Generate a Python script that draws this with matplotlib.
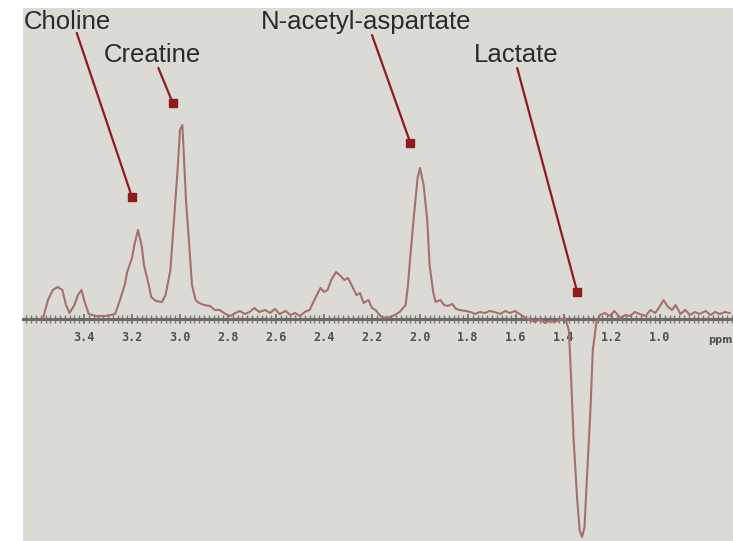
import matplotlib.pyplot as plt
from matplotlib.ticker import MultipleLocator

# chemical shift (ppm) and signal amplitude (arbitrary units)
ppm = [3.57, 3.55, 3.53, 3.51, 3.49, 3.475, 3.46, 3.44, 3.425, 3.41, 3.40, 3.38, 3.35, 3.31,
       3.27, 3.25, 3.23, 3.22, 3.20, 3.19, 3.175, 3.16, 3.15, 3.13, 3.12, 3.10, 3.075, 3.06,
       3.04, 3.025, 3.01, 3.00, 2.99, 2.985, 2.975, 2.96, 2.95, 2.935, 2.92, 2.90, 2.875, 2.855,
       2.835, 2.81, 2.79, 2.77, 2.75, 2.73, 2.71, 2.69, 2.67, 2.645, 2.625, 2.605, 2.585, 2.56,
       2.54, 2.52, 2.50, 2.48, 2.46, 2.44, 2.415, 2.40, 2.385, 2.37, 2.35, 2.335, 2.315, 2.30,
       2.285, 2.265, 2.25, 2.235, 2.215, 2.20, 2.185, 2.165, 2.145, 2.125, 2.105, 2.085, 2.06,
       2.05, 2.04, 2.025, 2.01, 2.00, 1.985, 1.97, 1.96, 1.945, 1.935, 1.915, 1.90, 1.885, 1.865,
       1.85, 1.835, 1.81, 1.79, 1.77, 1.75, 1.73, 1.71, 1.69, 1.665, 1.645, 1.625, 1.605, 1.585,
       1.56, 1.54, 1.52, 1.50, 1.48, 1.46, 1.44, 1.415, 1.395, 1.38, 1.37, 1.36, 1.345, 1.335,
       1.325, 1.315, 1.305, 1.29, 1.28, 1.265, 1.25, 1.23, 1.21, 1.19, 1.165, 1.145, 1.125,
       1.105, 1.085, 1.06, 1.04, 1.02, 1.00, 0.985, 0.97, 0.95, 0.935, 0.915, 0.895, 0.875,
       0.855, 0.835, 0.81, 0.79, 0.77, 0.75, 0.73, 0.71]
signal = [0.1, 1.9, 2.9, 3.2, 2.9, 1.4, 0.6, 1.4, 2.4, 2.9, 1.9, 0.5, 0.3, 0.3,
          0.5, 1.9, 3.4, 4.7, 6.1, 7.4, 8.9, 7.4, 5.4, 3.4, 2.2, 1.8, 1.7, 2.4,
          4.9, 9.9, 14.9, 18.9, 19.4, 16.9, 11.9, 6.9, 3.4, 1.9, 1.6, 1.4, 1.3, 0.9,
          0.9, 0.5, 0.3, 0.6, 0.8, 0.5, 0.7, 1.1, 0.7, 0.9, 0.6, 1.0, 0.5, 0.8,
          0.4, 0.6, 0.3, 0.7, 0.9, 1.9, 3.1, 2.7, 2.9, 3.9, 4.7, 4.4, 3.9, 4.1,
          3.4, 2.4, 2.6, 1.6, 1.9, 1.1, 0.9, 0.3, 0.1, 0.2, 0.4, 0.7, 1.4,
          3.4, 6.4, 10.4, 14.1, 15.1, 13.4, 9.9, 5.4, 2.7, 1.7, 1.9, 1.4, 1.3, 1.5,
          1.0, 0.9, 0.8, 0.7, 0.5, 0.7, 0.6, 0.8, 0.7, 0.5, 0.8, 0.6, 0.8, 0.5,
          0.1, -0.1, -0.3, 0.0, -0.4, -0.2, -0.3, -0.1, 0.1, -1.1, -6.1, -12.1, -18.1, -21.1,
          -21.8, -20.9, -16.1, -9.1, -3.1, -0.3, 0.4, 0.6, 0.3, 0.8, 0.1, 0.4, 0.3,
          0.7, 0.5, 0.3, 0.9, 0.6, 1.3, 1.9, 1.3, 0.9, 1.4, 0.5, 0.9, 0.4,
          0.7, 0.5, 0.8, 0.4, 0.7, 0.5, 0.7, 0.6]

tick_ppm = [3.4, 3.2, 3.0, 2.8, 2.6, 2.4, 2.2, 2.0, 1.8, 1.6, 1.4, 1.2, 1.0]

# labels: name, text position, line start, arrow tip (ppm, amplitude)
names = ["Choline", "Creatine", "N-acetyl-aspartate", "Lactate"]
name_pos = [(3.47, 29.7), (3.117, 26.4), (2.225, 29.7), (1.60, 26.4)]
line_from = [(3.43, 28.6), (3.09, 25.1), (2.20, 28.4), (1.595, 25.1)]
line_to = [(3.20, 12.2), (3.03, 21.6), (2.04, 17.6), (1.345, 2.7)]

bg = "#dcdad5"
trace_col = "#a5706c"
arrow_col = "#8e1c1c"

fig = plt.figure(figsize=(7.33, 5.41), dpi=100, facecolor="white")
ax = fig.add_axes([23 / 733, 0, 710 / 733, 533 / 541])
ax.set_facecolor(bg)
ax.set_xlim(3.654, 0.696)
ax.set_ylim(-22.2, 31.1)

ax.plot(ppm, signal, color=trace_col, lw=1.5, zorder=3)

for s in ["top", "right", "left"]:
    ax.spines[s].set_visible(False)
ax.spines["bottom"].set_position(("data", 0))
ax.spines["bottom"].set_color("#6e6a68")
ax.spines["bottom"].set_linewidth(2.2)
ax.set_yticks([])
ax.set_xticks(tick_ppm)
ax.set_xticklabels([f"{t:.1f}" for t in tick_ppm])
ax.xaxis.set_minor_locator(MultipleLocator(0.02))
ax.tick_params(axis="x", which="major", direction="inout", length=7, width=1.2,
               color="#6e6a68", pad=5, labelsize=8.5, labelcolor="#505050")
ax.tick_params(axis="x", which="minor", direction="inout", length=6, width=1.0,
               color="#7a7472")
for lab in ax.get_xticklabels():
    lab.set_fontweight("bold")
    lab.set_family("DejaVu Sans Mono")
ax.text(0.75, -2.1, "ppm", fontsize=7, fontweight="bold", color="#505050",
        ha="center", va="center")

for name, pos, a, b in zip(names, name_pos, line_from, line_to):
    ax.text(pos[0], pos[1], name, fontsize=18.5, color="#2b2b2b", family="Liberation Sans",
            ha="center", va="center", zorder=4)
    ax.annotate("", xy=b, xytext=a,
                arrowprops=dict(arrowstyle="-", color=arrow_col, lw=1.6,
                                shrinkA=0, shrinkB=0), zorder=5)
    ax.plot([b[0]], [b[1]], marker="s", ms=6, color=arrow_col, zorder=6)

fig.savefig("out.png", dpi=100, facecolor="white")
